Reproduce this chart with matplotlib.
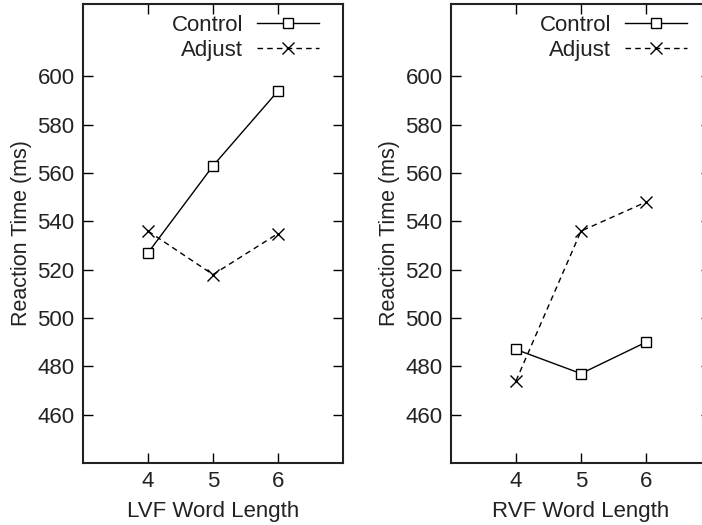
import matplotlib
matplotlib.use("Agg")
import matplotlib.pyplot as plt

plt.rcParams['font.family'] = ['Liberation Sans', 'DejaVu Sans']

word_length = [4, 5, 6]
lvf_control = [527, 563, 594]
lvf_adjust = [536, 518, 535]
rvf_control = [487, 477, 490]
rvf_adjust = [474, 536, 548]
yticks = [460, 480, 500, 520, 540, 560, 580, 600]

fig = plt.figure(figsize=(7.02, 5.25), dpi=100)
W, H = 702, 525
panels = [
    (83, "LVF Word Length", lvf_control, lvf_adjust),
    (451, "RVF Word Length", rvf_control, rvf_adjust),
]
fs = 16
tc = '#222222'
for x0, xlabel, ctrl, adj in panels:
    ax = fig.add_axes([x0 / W, (H - 463) / H, 260 / W, 459 / H])
    ax.plot(word_length, ctrl, color='black', lw=1.0, marker='s', ms=6.5,
            mfc='white', mec='black', mew=1.0, label='Control')
    ax.plot(word_length, adj, color='black', lw=1.0, ls=(0, (4, 3)), marker='x',
            ms=8, mew=1.0, label='Adjust')
    ax.set_xlim(3, 7)
    ax.set_ylim(440, 630)
    ax.set_xticks(word_length)
    ax.set_yticks(yticks)
    ax.tick_params(direction='in', length=7, width=1.0, top=True, right=True,
                   labelsize=fs, pad=6, colors='black', labelcolor=tc)
    for s in ax.spines.values():
        s.set_linewidth(1.5)
        s.set_color('#222222')
    ax.set_xlabel(xlabel, fontsize=fs, labelpad=6, color=tc)
    ax.set_ylabel("Reaction Time (ms)", fontsize=15.5, labelpad=4, color=tc)
    leg = ax.legend(loc='upper right', bbox_to_anchor=(0.94, 0.996), frameon=False,
                    markerfirst=False, fontsize=fs, handlelength=2.75,
                    handletextpad=0.65, labelspacing=0.2, borderaxespad=0.0)
    for t in leg.get_texts():
        t.set_color(tc)

fig.savefig("out.png", dpi=100)
